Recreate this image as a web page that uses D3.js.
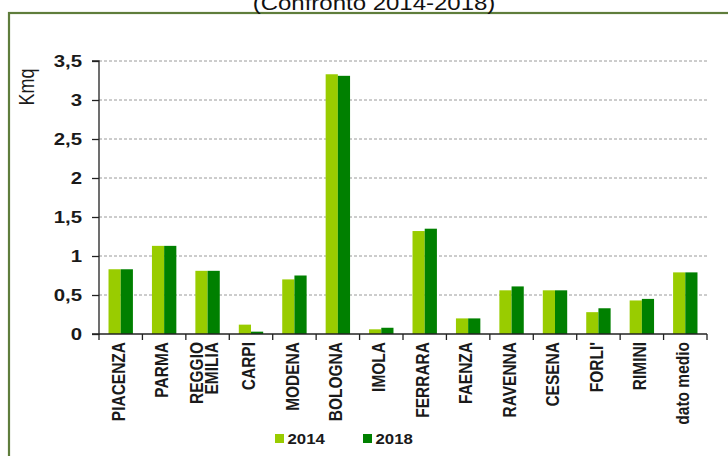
<!DOCTYPE html>
<html>
<head>
<meta charset="utf-8">
<script src="https://cdn.jsdelivr.net/npm/d3@7"></script>
<style>
  html, body { margin: 0; padding: 0; background: #fff; }
  svg { display: block; font-family: "Liberation Sans", Arial, sans-serif; }
</style>
</head>
<body>
<svg id="chart" width="728" height="456"></svg>
<script>
// Superficie (Kmq) per comune, confronto 2014-2018
const categories = ["PIACENZA", "PARMA", "REGGIO\nEMILIA", "CARPI", "MODENA", "BOLOGNA", "IMOLA",
                    "FERRARA", "FAENZA", "RAVENNA", "CESENA", "FORLI'", "RIMINI", "dato medio"];
const series = ["2014", "2018"];
const values2014 = [0.83, 1.13, 0.81, 0.12, 0.70, 3.33, 0.06, 1.32, 0.20, 0.56, 0.56, 0.28, 0.43, 0.79];
const values2018 = [0.83, 1.13, 0.81, 0.03, 0.75, 3.31, 0.08, 1.35, 0.20, 0.61, 0.56, 0.33, 0.45, 0.79];
const yTicks = [0, 0.5, 1, 1.5, 2, 2.5, 3, 3.5];
const yTickLabels = ["0", "0,5", "1", "1,5", "2", "2,5", "3", "3,5"];
const titleText = "(Confronto 2014-2018)";
const yAxisTitle = "Kmq";

const colors = { "2014": "#99cc00", "2018": "#008000" };
const values = { "2014": values2014, "2018": values2018 };
const stretch = 1.2;   // horizontal widening of the lettering

const svg = d3.select("#chart");

// outer frame
svg.append("rect")
  .attr("x", 9).attr("y", 13).attr("width", 760).attr("height", 480)
  .attr("fill", "none").attr("stroke", "#5f7d3c").attr("stroke-width", 2.2);

// title, partly above the frame
svg.append("text")
  .attr("transform", `translate(374,10) scale(${stretch},1)`)
  .attr("text-anchor", "middle")
  .attr("font-size", 20).attr("fill", "#111")
  .text(titleText);

const plot = { left: 99, right: 707, top: 61, bottom: 334 };

const x = d3.scaleBand().domain(d3.range(categories.length))
  .range([plot.left, plot.right]).paddingInner(0).paddingOuter(0);
const xs = d3.scaleBand().domain(series).range([0, x.bandwidth()])
  .paddingInner(0).paddingOuter(0.78);
const y = d3.scaleLinear().domain([0, 3.5]).range([plot.bottom, plot.top]);

// gridlines
svg.append("g").selectAll("line")
  .data(yTicks.filter(d => d > 0))
  .join("line")
  .attr("x1", plot.left).attr("x2", plot.right)
  .attr("y1", d => y(d)).attr("y2", d => y(d))
  .attr("stroke", "#9a9a9a").attr("stroke-width", 1)
  .attr("stroke-dasharray", "3,2");

// bars
const groups = svg.append("g").selectAll("g")
  .data(categories.map((c, i) => i))
  .join("g")
  .attr("transform", i => `translate(${x(i)},0)`);
groups.selectAll("rect")
  .data(i => series.map(s => ({ s, v: values[s][i] })))
  .join("rect")
  .attr("x", d => xs(d.s))
  .attr("width", xs.bandwidth())
  .attr("y", d => y(d.v))
  .attr("height", d => y(0) - y(d.v))
  .attr("fill", d => colors[d.s]);

// y axis
const yAxis = svg.append("g").attr("transform", `translate(${plot.left},0)`)
  .call(d3.axisLeft(y).tickValues(yTicks).tickSize(7).tickFormat(""));
yAxis.select(".domain").attr("stroke", "#222").attr("stroke-width", 1.3)
  .attr("d", `M-7,${plot.top}H0V${plot.bottom}H-7`);
yAxis.selectAll(".tick line").attr("stroke", "#222").attr("stroke-width", 1.3);

svg.append("g").selectAll("text")
  .data(yTicks)
  .join("text")
  .attr("transform", d => `translate(82,${y(d)}) scale(${stretch},1)`)
  .attr("dy", "0.36em")
  .attr("text-anchor", "end")
  .attr("font-size", 17).attr("font-weight", "bold").attr("fill", "#1a1a1a")
  .text((d, i) => yTickLabels[i]);

// x axis
const xAxis = svg.append("g").attr("transform", `translate(0,${plot.bottom})`);
xAxis.append("line")
  .attr("x1", plot.left).attr("x2", plot.right)
  .attr("stroke", "#222").attr("stroke-width", 1.3);
xAxis.selectAll("line.tk")
  .data(d3.range(categories.length + 1))
  .join("line").attr("class", "tk")
  .attr("x1", i => plot.left + i * x.step()).attr("x2", i => plot.left + i * x.step())
  .attr("y1", 0).attr("y2", 6)
  .attr("stroke", "#222").attr("stroke-width", 1.3);

// rotated category labels
const labels = svg.append("g").selectAll("text")
  .data(categories.map((c, i) => ({ c, i })))
  .join("text")
  .attr("transform", d => `translate(${x(d.i) + x.bandwidth() / 2},342) scale(${stretch},1) rotate(-90)`)
  .attr("text-anchor", "end")
  .attr("font-size", 15.5).attr("font-weight", "bold").attr("fill", "#1a1a1a");
labels.each(function (d) {
  const lines = d.c.split("\n");
  const t = d3.select(this);
  if (lines.length === 1) {
    t.append("tspan").attr("x", 0).attr("y", -2 + 5.5).text(lines[0]);
  } else {
    t.append("tspan").attr("x", 0).attr("y", -9.5 + 5.5).text(lines[0]);
    t.append("tspan").attr("x", 0).attr("y", 3.2 + 5.5).text(lines[1]);
  }
});

// y axis title
svg.append("text")
  .attr("transform", `translate(34,87) scale(${stretch},1) rotate(-90)`)
  .attr("text-anchor", "middle")
  .attr("font-size", 18).attr("fill", "#1a1a1a")
  .text(yAxisTitle);

// legend
const legendX = [275, 363];
const legend = svg.append("g").selectAll("g")
  .data(series)
  .join("g")
  .attr("transform", (d, i) => `translate(${legendX[i]},434)`);
legend.append("rect")
  .attr("width", 9).attr("height", 9)
  .attr("fill", d => colors[d]);
legend.append("text")
  .attr("transform", `translate(12.5,9.5) scale(${stretch},1)`)
  .attr("font-size", 14).attr("font-weight", "bold").attr("fill", "#1a1a1a")
  .text(d => d);
</script>
</body>
</html>
